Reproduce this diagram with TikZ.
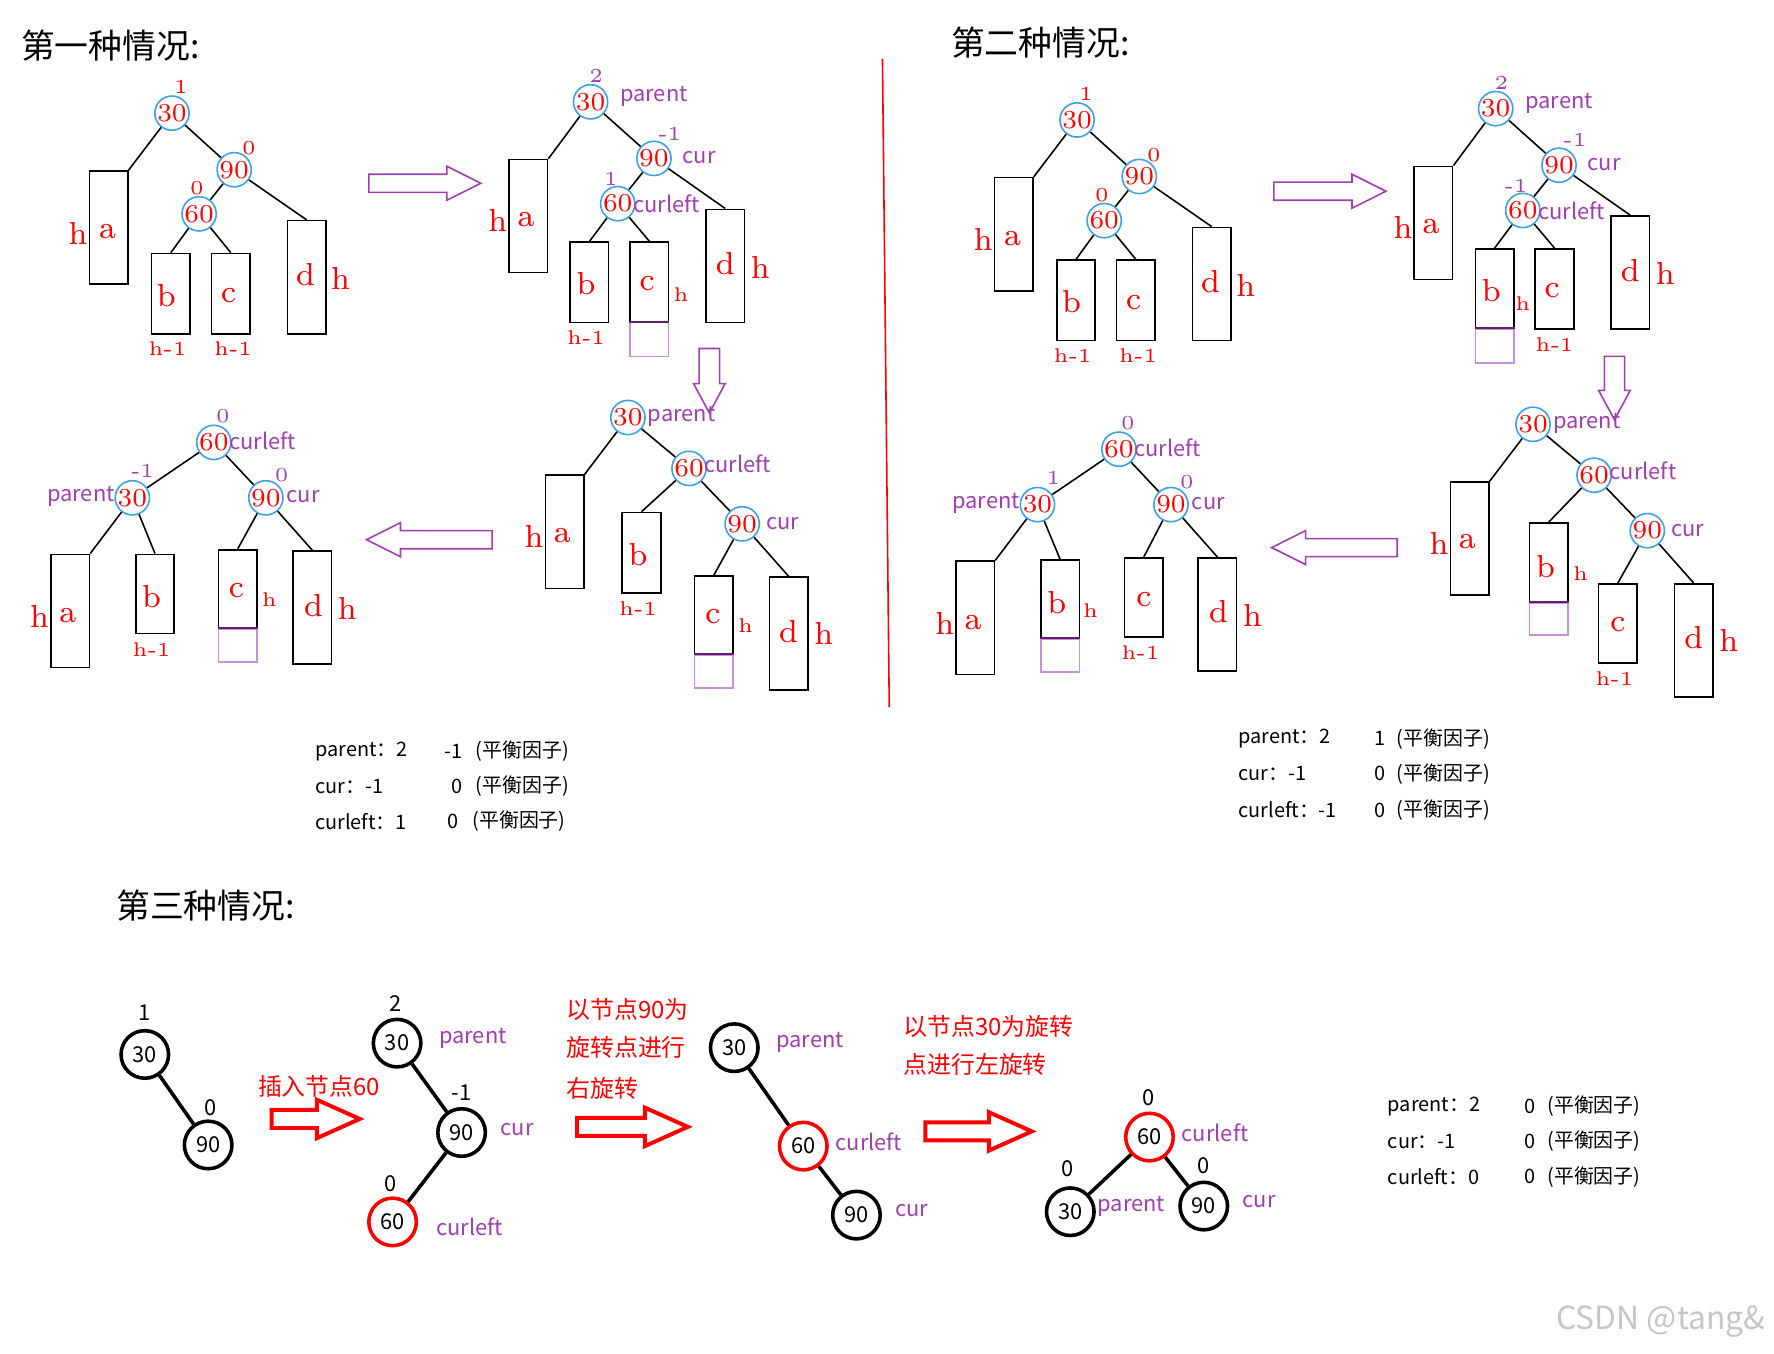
\documentclass[tikz,border=0pt]{standalone}
\usepackage{fontspec}
\newfontfamily\cjk{Noto Sans CJK SC}
\definecolor{pu}{HTML}{A040B0}
\definecolor{lpu}{HTML}{C890D8}
\definecolor{dpu}{HTML}{602070}
\definecolor{cb}{HTML}{3FA0E8}
\tikzset{
 cn/.style={circle,draw=cb,line width=0.4pt,text=red,inner sep=0pt,minimum size=0.25cm,font=\fontsize{6.5}{7}\selectfont},
 rn/.style={text=red,inner sep=0pt,font=\fontsize{5}{6}\selectfont},
 pn/.style={text=pu,inner sep=0pt,font=\fontsize{5}{6}\selectfont},
 pl/.style={text=pu,inner sep=0pt,font=\cjk\fontsize{5.5}{6}\selectfont},
 lt/.style={text=red,inner sep=0pt,font=\fontsize{8}{9}\selectfont},
 sm/.style={text=red,inner sep=0pt,font=\fontsize{5}{6}\selectfont},
 boxs/.style={draw=black,line width=0.4pt,inner sep=0pt},
 pbox/.style={draw=lpu,line width=0.4pt,inner sep=0pt},
 ln/.style={line width=0.4pt},
 pa/.style={draw=pu,line width=0.4pt},
 ra/.style={draw=red,line width=1pt},
 bt/.style={inner sep=0pt,anchor=west,font=\cjk\fontsize{5}{6}\selectfont},
 ttl/.style={inner sep=0pt,anchor=west,font=\cjk\fontsize{8.5}{10}\selectfont},
 bn/.style={circle,draw=black,line width=0.9pt,inner sep=0pt,minimum size=0.42cm,font=\cjk\fontsize{5.5}{6}\selectfont},
 rbn/.style={bn,draw=red},
 bl/.style={inner sep=0pt,font=\cjk\fontsize{5.5}{6}\selectfont},
 rt/.style={text=red,inner sep=0pt,anchor=west,font=\cjk\fontsize{6}{7}\selectfont,align=left},
}
\newcommand\bx[6][boxs]{\node[#1,minimum width={(#5-#3)*0.01cm},minimum height={(#6-#4)*0.01cm}] (#2) at ({(#3+#5)/2},{(#4+#6)/2}) {};}
\newcommand\pbx[5]{\bx[pbox]{#1}{#2}{#3}{#4}{#5}\draw[dpu,line width=0.5pt] (#1.north west)--(#1.north east);}
\newcommand\rarrp[3]{\draw[pa] (#1,#3-8) -- (#2-30,#3-8) -- (#2-30,#3-15) -- (#2,#3) -- (#2-30,#3+15) -- (#2-30,#3+8) -- (#1,#3+8) -- cycle;}
\newcommand\larrp[3]{\draw[pa] (#1,#3-8) -- (#2+30,#3-8) -- (#2+30,#3-15) -- (#2,#3) -- (#2+30,#3+15) -- (#2+30,#3+8) -- (#1,#3+8) -- cycle;}
\newcommand\darrp[3]{\draw[pa] (#1-9,#2) -- (#1-9,#3-26) -- (#1-14,#3-26) -- (#1,#3) -- (#1+14,#3-26) -- (#1+9,#3-26) -- (#1+9,#2) -- cycle;}
\newcommand\rarrr[3]{\draw[ra] (#1,#3-8) -- (#2-38,#3-8) -- (#2-38,#3-17) -- (#2,#3) -- (#2-38,#3+17) -- (#2-38,#3+8) -- (#1,#3+8) -- cycle;}
\newcommand\hm{h-1}
\newcommand\treeOne{
 \node[cn] (n30) at (152,100) {30}; \node[rn] at (160,77) {1};
 \node[cn] (n90) at (207,150) {90}; \node[rn] at (220,131) {0};
 \node[cn] (n60) at (176,189) {60}; \node[rn] at (174,166) {0};
 \bx{a}{79}{151}{113}{251}\bx{b}{134}{224}{168}{295}\bx{c}{187}{224}{221}{295}\bx{d}{254}{195}{288}{295}
 \node[lt] at (69,206) {h}; \node[lt] at (95,205) {a}; \node[lt] at (147,261) {b};
 \node[sm] at (148,308) {\hm}; \node[lt] at (202,261) {c}; \node[sm] at (206,308) {\hm};
 \node[lt] at (270,243) {d}; \node[lt] at (301,246) {h};
 \draw[ln] (n30)--(a.north east) (n30)--(n90) (n90)--(n60) (n90)--(d.north) (n60)--(b.north) (n60)--(c.north);
}
\newcommand\treeTwo[1]{
 \node[cn] (n30) at (522,90) {30}; \node[pn] at (527,67) {2}; \node[pl] at (578,85) {parent};
 \node[cn] (n90) at (578,140) {90}; \node[pn] at (592,118) {-1}; \node[pl] at (618,139) {cur};
 \node[cn] (n60) at (546,180) {60}; \node[pn] at (540,158) {#1}; \node[pl,anchor=west] at (559,180) {curleft};
 \bx{a}{450}{141}{484}{241}\bx{b}{504}{214}{538}{285}\bx{c}{557}{214}{591}{285}\bx{d}{624}{185}{658}{285}
 \node[lt] at (440,195) {h}; \node[lt] at (465,194) {a}; \node[lt] at (518,251) {b};
 \node[lt] at (572,251) {c}; \node[lt] at (641,233) {d}; \node[lt] at (672,236) {h};
 \draw[ln] (n30)--(a.north east) (n30)--(n90) (n90)--(n60) (n90)--(d.north) (n60)--(b.north) (n60)--(c.north);
}
\newcommand\treeThree{
 \node[cn] (n30) at (555,369) {30}; \node[pl,anchor=west] at (572,368) {parent};
 \node[cn] (n60) at (609,414) {60}; \node[pl,anchor=west] at (622,410) {curleft};
 \node[cn] (n90) at (656,463) {90}; \node[pl] at (692,463) {cur};
 \bx{a}{482}{420}{516}{520}\bx{d}{680}{510}{714}{610}
 \node[lt] at (472,474) {h}; \node[lt] at (497,473) {a};
 \node[lt] at (697,558) {d}; \node[lt] at (728,560) {h};
 \draw[ln] (n30)--(a.north east) (n30)--(n60) (n60)--(n90) (n90)--(d.north);
}
\newcommand\treeFour[2]{
 \node[cn] (n60) at (189,391) {60}; \node[pn] at (197,368) {0}; \node[pl,anchor=west] at (202,390) {curleft};
 \node[cn] (n30) at (117,440) {30}; \node[pn] at (#2,416) {#1}; \node[pl,anchor=east] at (102,439) {parent};
 \node[cn] (n90) at (235,440) {90}; \node[pn] at (249,420) {0}; \node[pl] at (268,439) {cur};
 \bx{a}{45}{490}{79}{590}\bx{d}{259}{487}{293}{587}
 \node[lt] at (35,545) {h}; \node[lt] at (60,544) {a};
 \node[lt] at (277,535) {d}; \node[lt] at (307,538) {h};
 \draw[ln] (n60)--(n30) (n60)--(n90) (n30)--(a.north east) (n90)--(d.north);
}
\begin{document}
\begin{tikzpicture}[x=0.01cm,y=-0.01cm]
\useasboundingbox (0,0) rectangle (1568,1196);
\fill[white] (0,0) rectangle (1568,1196);
\node[ttl] (t1) at (18,40) {第一种情况:};
\node[ttl] (t2) at (840,38) {第二种情况:};
\node[ttl] (t3) at (102,800) {第三种情况:};
\draw[red,line width=0.4pt] (780,52) -- (786,625);
% case one
\begin{scope}[name prefix=A-]\treeOne\end{scope}
\begin{scope}[name prefix=B-]\treeTwo{1}
 \pbx{pb}{557}{285}{591}{315}
 \node[sm] at (602,260) {h}; \node[sm] at (518,298) {\hm};
\end{scope}
\begin{scope}[name prefix=C-]\treeThree
 \bx{b}{550}{453}{584}{524}\bx{c}{614}{509}{648}{579}\pbx{pb}{614}{579}{648}{608}
 \node[lt] at (564,490) {b}; \node[lt] at (630,545) {c};
 \node[sm] at (659,553) {h}; \node[sm] at (564,538) {\hm};
 \draw[ln] (n60)--(b.north) (n90)--(c.north);
\end{scope}
\begin{scope}[name prefix=D-]\treeFour{-1}{126}
 \bx{b}{120}{490}{154}{560}\bx{c}{193}{486}{227}{556}\pbx{pb}{193}{556}{227}{585}
 \node[lt] at (134,527) {b}; \node[lt] at (209,522) {c};
 \node[sm] at (238,530) {h}; \node[sm] at (134,574) {\hm};
 \draw[ln] (n30)--(b.north) (n90)--(c.north);
\end{scope}
\rarrp{326}{425}{162}
\darrp{627}{308}{365}
\larrp{435}{324}{477}
% case two
\begin{scope}[shift={(800,6)},name prefix=E-]\treeOne\end{scope}
\begin{scope}[shift={(800,6)},name prefix=F-]\treeTwo{-1}
 \pbx{pb}{504}{285}{538}{315}
 \node[sm] at (546,262) {h}; \node[sm] at (574,299) {\hm};
\end{scope}
\begin{scope}[shift={(800,6)},name prefix=G-]\treeThree
 \bx{b}{552}{456}{586}{527}\bx{c}{613}{510}{647}{580}\pbx{pb}{552}{527}{586}{555}
 \node[lt] at (566,495) {b}; \node[lt] at (630,546) {c};
 \node[sm] at (597,501) {h}; \node[sm] at (627,594) {\hm};
 \draw[ln] (n60)--(b.north) (n90)--(c.north);
\end{scope}
\begin{scope}[shift={(800,6)},name prefix=H-]\treeFour{1}{131}
 \bx{b}{120}{489}{154}{559}\bx{c}{194}{487}{228}{557}\pbx{pb}{120}{559}{154}{588}
 \node[lt] at (134,527) {b}; \node[lt] at (211,524) {c};
 \node[sm] at (164,534) {h}; \node[sm] at (208,571) {\hm};
 \draw[ln] (n30)--(b.north) (n90)--(c.north);
\end{scope}
\rarrp{1126}{1225}{169}
\darrp{1427}{315}{371}
\larrp{1235}{1124}{484}
% tables
\node[bt] (p1) at (278,664) {parent：2}; \node[bt] at (392,664) {-1}; \node[bt] at (420,664) {(平衡因子)};
\node[bt] (p2) at (278,695) {cur：-1}; \node[bt] at (398,695) {0}; \node[bt] at (420,695) {(平衡因子)};
\node[bt] (p3) at (278,726) {curleft：1}; \node[bt] at (395,726) {0}; \node[bt] at (417,726) {(平衡因子)};
\node[bt] (q1) at (1094,653) {parent：2}; \node[bt] at (1214,653) {1}; \node[bt] at (1234,653) {(平衡因子)};
\node[bt] (q2) at (1094,684) {cur：-1}; \node[bt] at (1214,684) {0}; \node[bt] at (1234,684) {(平衡因子)};
\node[bt] (q3) at (1094,716) {curleft：-1}; \node[bt] at (1214,716) {0}; \node[bt] at (1234,716) {(平衡因子)};
\node[bt] (r1) at (1226,978) {parent：2}; \node[bt] at (1347,978) {0}; \node[bt] at (1367,978) {(平衡因子)};
\node[bt] (r2) at (1226,1009) {cur：-1}; \node[bt] at (1347,1009) {0}; \node[bt] at (1367,1009) {(平衡因子)};
\node[bt] (r3) at (1226,1040) {curleft：0}; \node[bt] at (1347,1040) {0}; \node[bt] at (1367,1040) {(平衡因子)};
% case three
\node[bn] (s30) at (128,932) {30}; \node[bl] at (128,895) {1};
\node[bn] (s90) at (184,1012) {90}; \node[bl] at (186,979) {0};
\draw[line width=0.9pt] (s30)--(s90);
\node[rt,anchor=center] at (282,960) {插入节点60};
\rarrr{240}{318}{989}
\node[bn] (u30) at (351,922) {30}; \node[bl] at (350,887) {2}; \node[pl] at (418,918) {parent};
\node[bn] (u90) at (408,1001) {90}; \node[bl] at (408,966) {-1}; \node[pl] at (457,998) {cur};
\node[rbn] (u60) at (347,1080) {60}; \node[bl] at (345,1046) {0}; \node[pl] at (415,1084) {curleft};
\draw[line width=0.9pt] (u30)--(u90) (u90)--(u60);
\node[rt] at (500,892) {以节点90为}; \node[rt] at (500,926) {旋转点进行}; \node[rt] at (500,962) {右旋转};
\rarrr{510}{608}{996}
\node[bn] (v30) at (649,926) {30}; \node[pl] at (716,921) {parent};
\node[rbn] (v60) at (710,1013) {60}; \node[pl] at (768,1009) {curleft};
\node[bn] (v90) at (757,1074) {90}; \node[pl] at (806,1070) {cur};
\draw[line width=0.9pt] (v30)--(v60) (v60)--(v90);
\node[rt] at (798,907) {以节点30为旋转}; \node[rt] at (798,941) {点进行左旋转};
\rarrr{818}{912}{1000}
\node[rbn] (w60) at (1016,1005) {60}; \node[bl] at (1015,970) {0}; \node[pl] at (1074,1001) {curleft};
\node[bn] (w30) at (946,1071) {30}; \node[bl] at (944,1033) {0}; \node[pl] at (1000,1066) {parent};
\node[bn] (w90) at (1064,1066) {90}; \node[bl] at (1064,1030) {0}; \node[pl] at (1113,1062) {cur};
\draw[line width=0.9pt] (w60)--(w30) (w60)--(w90);
\node[inner sep=0pt,text=gray!45,font=\cjk\fontsize{8}{9}\selectfont] (wm) at (1468,1168) {CSDN @tang\&};
\end{tikzpicture}
\end{document}
